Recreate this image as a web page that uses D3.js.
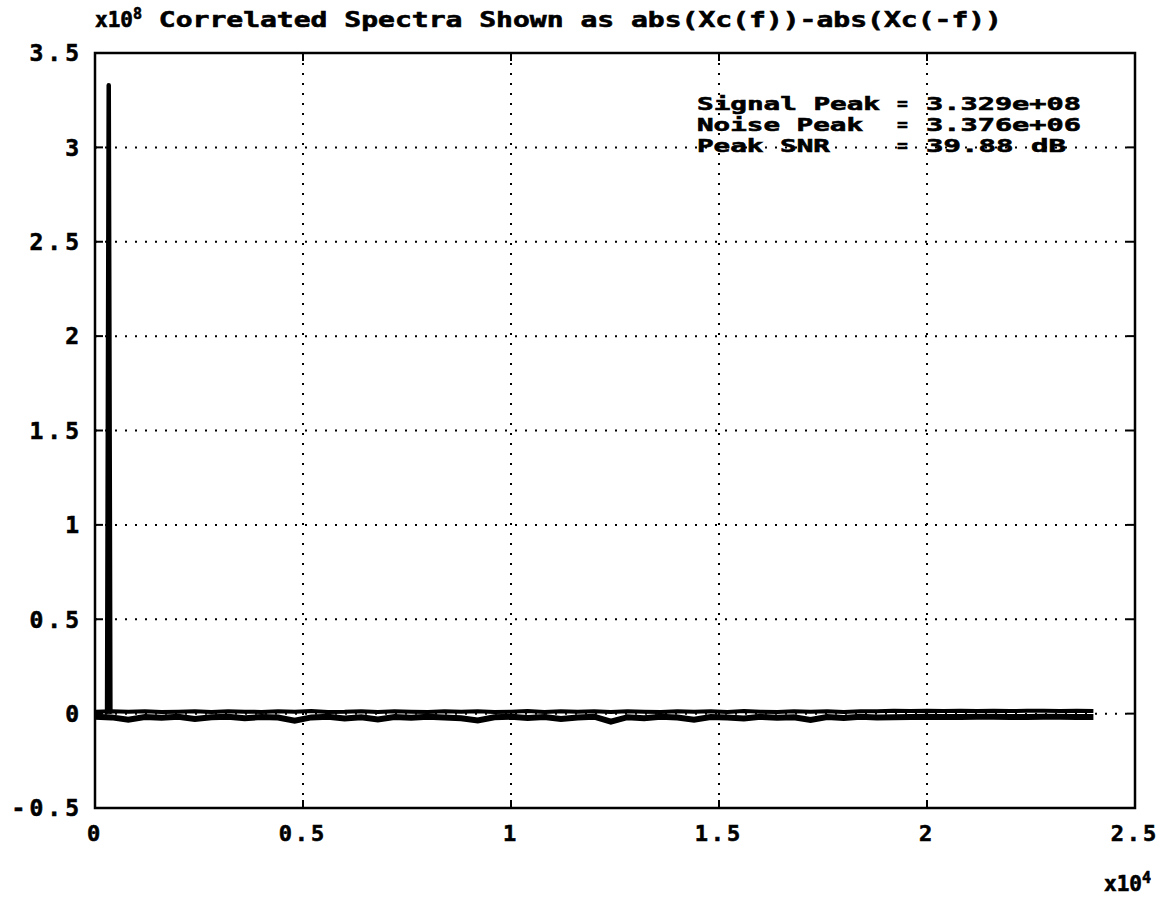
<!DOCTYPE html>
<html>
<head>
<meta charset="utf-8">
<script src="https://cdn.jsdelivr.net/npm/d3@7"></script>
<style>
  body { margin: 0; background: #fff; }
  svg text { font-family: "DejaVu Sans Mono", monospace; font-weight: bold; fill: #000; stroke: #000; stroke-width: 0.6; }
  .grid line { stroke: #000; stroke-width: 2; stroke-dasharray: 2 8; }
</style>
</head>
<body>
<svg id="chart"></svg>
<script>
(function() {
  'use strict';
  const W = 1162, H = 907;
  const margin = {top: 53, right: 27, bottom: 99, left: 95};
  const width = W - margin.left - margin.right;
  const height = H - margin.top - margin.bottom;

  // axis ticks (x in Hz, y in units of 1e8)
  const xTicks = [0, 5000, 10000, 15000, 20000, 25000];
  const xTickLabels = ['0', '0.5', '1', '1.5', '2', '2.5'];
  const yTicks = [-0.5, 0, 0.5, 1, 1.5, 2, 2.5, 3, 3.5];
  const yTickLabels = ['-0.5', '0', '0.5', '1', '1.5', '2', '2.5', '3', '3.5'];

  // the signal spike
  const spikeFreq = [290, 330, 370];
  const spikeVal  = [0.010, 3.329, 0.010];

  // noise floor, sampled every 400 Hz from 0 to 24000 Hz
  const noiseFreq = d3.range(0, 24001, 400);
  const upperVal = [0.010,0.012,0.010,0.013,0.009,0.010,0.012,0.009,0.013,0.010,0.009,0.012,0.010,0.014,0.009,0.010,
    0.013,0.009,0.012,0.010,0.009,0.013,0.010,0.012,0.009,0.010,0.014,0.009,0.012,0.010,0.013,0.009,0.012,0.010,
    0.009,0.013,0.010,0.012,0.009,0.014,0.010,0.009,0.012,0.010,0.013,0.009,0.012,0.013,0.015,0.014,0.015,0.014,
    0.015,0.014,0.015,0.014,0.015,0.015,0.014,0.015,0.014];
  const lowerVal = [-0.016,-0.020,-0.032,-0.018,-0.022,-0.017,-0.028,-0.019,-0.016,-0.024,-0.018,-0.021,-0.038,
    -0.020,-0.017,-0.026,-0.019,-0.031,-0.018,-0.022,-0.016,-0.020,-0.025,-0.036,-0.019,-0.017,-0.023,-0.018,
    -0.029,-0.020,-0.016,-0.042,-0.019,-0.024,-0.017,-0.021,-0.032,-0.018,-0.020,-0.026,-0.017,-0.022,-0.019,
    -0.034,-0.018,-0.023,-0.017,-0.020,-0.019,-0.018,-0.017,-0.018,-0.018,-0.017,-0.017,-0.018,-0.018,-0.017,
    -0.017,-0.018,-0.018];

  const annoLabels = ['Signal Peak', 'Noise Peak', 'Peak SNR'];
  const annoLabelLen = [183, 166, 133];
  const annoValues = ['3.329e+08', '3.376e+06', '39.88 dB'];
  const annoValueLen = [155, 155, 140];

  const x = d3.scaleLinear().domain([0, 25000]).range([0, width]);
  const y = d3.scaleLinear().domain([-0.5, 3.5]).range([height, 0]);

  const svg = d3.select('#chart')
    .attr('width', W)
    .attr('height', H);

  const g = svg.append('g')
    .attr('transform', `translate(${margin.left},${margin.top})`);

  // dotted grid
  g.append('g')
    .attr('class', 'grid')
    .selectAll('line')
    .data(xTicks.slice(1, -1))
    .enter()
    .append('line')
      .attr('x1', d => x(d)).attr('x2', d => x(d))
      .attr('y1', 0).attr('y2', height);

  g.append('g')
    .attr('class', 'grid')
    .selectAll('line')
    .data(yTicks.slice(1, -1))
    .enter()
    .append('line')
      .attr('x1', 0).attr('x2', width)
      .attr('y1', d => y(d)).attr('y2', d => y(d));

  // inner tick marks
  const tickLen = 8;
  const xTickMarks = g.append('g').selectAll('g').data(xTicks.slice(1, -1)).enter();
  xTickMarks.append('line')
    .attr('x1', d => x(d)).attr('x2', d => x(d))
    .attr('y1', 0).attr('y2', tickLen)
    .attr('stroke', '#000').attr('stroke-width', 2);
  xTickMarks.append('line')
    .attr('x1', d => x(d)).attr('x2', d => x(d))
    .attr('y1', height).attr('y2', height - tickLen)
    .attr('stroke', '#000').attr('stroke-width', 2);
  const yTickMarks = g.append('g').selectAll('g').data(yTicks.slice(1, -1)).enter();
  yTickMarks.append('line')
    .attr('x1', 0).attr('x2', tickLen)
    .attr('y1', d => y(d)).attr('y2', d => y(d))
    .attr('stroke', '#000').attr('stroke-width', 2);
  yTickMarks.append('line')
    .attr('x1', width).attr('x2', width - tickLen)
    .attr('y1', d => y(d)).attr('y2', d => y(d))
    .attr('stroke', '#000').attr('stroke-width', 2);

  // traces
  const line = d3.line().x(d => x(d[0])).y(d => y(d[1]));

  g.append('path')
    .datum(d3.zip(noiseFreq, lowerVal))
    .attr('d', line)
    .attr('fill', 'none')
    .attr('stroke', '#000')
    .attr('stroke-width', 6);

  g.append('path')
    .datum(d3.zip(noiseFreq, upperVal))
    .attr('d', line)
    .attr('fill', 'none')
    .attr('stroke', '#000')
    .attr('stroke-width', 4);

  g.append('path')
    .datum(d3.zip(spikeFreq, spikeVal))
    .attr('d', line)
    .attr('fill', 'none')
    .attr('stroke', '#000')
    .attr('stroke-width', 4.5)
    .attr('stroke-linejoin', 'round')
    .attr('stroke-linecap', 'round');

  // frame
  g.append('rect')
    .attr('width', width)
    .attr('height', height)
    .attr('fill', 'none')
    .attr('stroke', '#000')
    .attr('stroke-width', 2.5);

  // tick labels
  g.append('g')
    .selectAll('text')
    .data(yTicks)
    .enter()
    .append('text')
      .attr('x', -12)
      .attr('y', d => y(d))
      .attr('dy', '0.36em')
      .attr('text-anchor', 'end')
      .attr('font-size', 23)
      .attr('letter-spacing', 4)
      .text((d, i) => yTickLabels[i]);

  g.append('g')
    .selectAll('text')
    .data(xTicks)
    .enter()
    .append('text')
      .attr('x', d => x(d))
      .attr('y', height + 33)
      .attr('text-anchor', 'middle')
      .attr('font-size', 22)
      .attr('letter-spacing', 3)
      .text((d, i) => xTickLabels[i]);

  // title with exponent
  const title = svg.append('text')
    .attr('x', 95)
    .attr('y', 27)
    .attr('font-size', 21);
  title.append('tspan').text('x10');
  title.append('tspan').attr('dy', -8).attr('font-size', 15).text('8');
  title.append('tspan').attr('dy', 8)
    .attr('textLength', 860).attr('lengthAdjust', 'spacingAndGlyphs')
    .text(' Correlated Spectra Shown as abs(Xc(f))-abs(Xc(-f))');

  // x exponent
  const xExp = svg.append('text')
    .attr('x', 1104)
    .attr('y', 891)
    .attr('font-size', 21);
  xExp.append('tspan').attr('textLength', 38).attr('lengthAdjust', 'spacingAndGlyphs').text('x10');
  xExp.append('tspan').attr('dy', -8).attr('font-size', 15).text('4');

  // peak annotation
  const anno = svg.append('g');
  annoLabels.forEach((lab, i) => {
    const by = 110 + i * 21;
    anno.append('text').attr('x', 697).attr('y', by).attr('font-size', 18)
      .attr('textLength', annoLabelLen[i]).attr('lengthAdjust', 'spacingAndGlyphs').text(lab);
    anno.append('text').attr('x', 897).attr('y', by).attr('font-size', 18).text('=');
    anno.append('text').attr('x', 926).attr('y', by).attr('font-size', 18)
      .attr('textLength', annoValueLen[i]).attr('lengthAdjust', 'spacingAndGlyphs').text(annoValues[i]);
  });
})();
</script>
</body>
</html>
